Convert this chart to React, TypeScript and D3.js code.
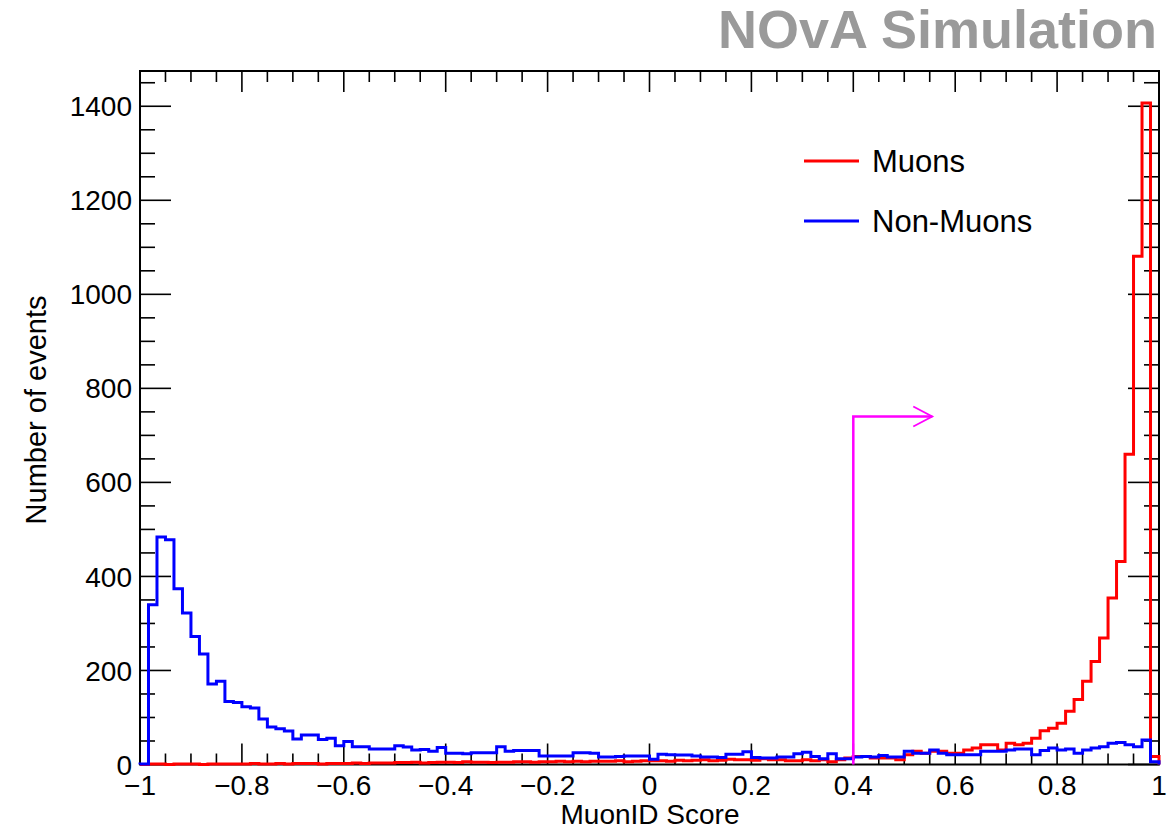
import React from "react";
import * as d3 from "d3";

// ---------- data ----------
const binEdgesRange = [-1, 1];
const nBins = 120;

const muonCounts = [
  0, 1, 1, 0, 1, 1, 1, 0, 1, 1, 1, 1, 1, 2, 1, 1, 2, 1, 2, 2, 2, 1, 2, 2, 2, 3, 2, 3, 3, 3, 4,
  4, 5, 3, 4, 5, 5, 4, 6, 5, 5, 4, 5, 5, 6, 6, 5, 6, 6, 7, 6, 7, 6, 7, 7, 7, 8, 6, 7, 8, 8,
  8, 7, 9, 8, 9, 10, 8, 9, 11, 10, 10, 9, 12, 10,
  10, 8, 8, 10, 8, 10, 6, 10, 14, 17, 17, 14, 14, 14, 10, 21, 28, 24, 28, 28,
  24, 24, 31, 35, 42, 42, 31, 45, 42, 45, 56, 72, 77, 88, 113, 138, 177, 219, 269, 354,
  432, 660, 1081, 1407, 17,
];

const nonMuonCounts = [
  1, 340, 484, 478, 374, 322, 272, 235, 171, 177, 134, 132, 123, 120, 97, 80, 76, 71, 54, 63,
  63, 53, 56, 40, 49, 38, 38, 33, 33, 33, 40, 37, 31, 32, 28, 36, 24, 24, 23, 25,
  25, 25, 38, 28, 30, 30, 30, 18, 18, 18, 18, 25, 25, 24, 16, 16, 17, 18, 18, 18,
  11, 22, 21, 20, 20, 18, 16, 16, 15, 22, 22, 27, 15, 14, 14, 16, 16, 23, 26, 17,
  12, 23, 12, 12, 16, 17, 16, 19, 16, 16, 28, 24, 24, 31, 24, 21, 21, 21, 21, 28,
  28, 28, 31, 33, 33, 21, 30, 35, 31, 33, 24, 31, 35, 38, 45, 47, 42, 38, 52, 6,
];

const xTickValues = [-1, -0.8, -0.6, -0.4, -0.2, 0, 0.2, 0.4, 0.6, 0.8, 1];
const xTickLabels = ["\u22121", "\u22120.8", "\u22120.6", "\u22120.4", "\u22120.2", "0", "0.2", "0.4", "0.6", "0.8", "1"];
const yTickValues = [0, 200, 400, 600, 800, 1000, 1200, 1400];
const yTickLabels = ["0", "200", "400", "600", "800", "1000", "1200", "1400"];

const seriesNames = ["Muons", "Non-Muons"];
const seriesColors = ["#ff0000", "#0000ff"];

const cutValue = 0.4;
const cutArrowHeight = 740;
const cutArrowEnd = 0.555;

// ---------- layout ----------
const W = 1173;
const H = 829;
const left = 140;
const right = 1159;
const top = 71;
const bottom = 764.5;
const yMax = 1475;
const FONT = "'Liberation Sans', Arial, Helvetica, sans-serif";

export default function App() {
  const x = d3.scaleLinear().domain(binEdgesRange).range([left, right]);
  const y = d3.scaleLinear().domain([0, yMax]).range([bottom, top]);
  const bw = (binEdgesRange[1] - binEdgesRange[0]) / nBins;

  const histPath = (vals: number[]) => {
    const pts: [number, number][] = [[binEdgesRange[0], 0]];
    vals.forEach((v, i) => {
      const x0 = binEdgesRange[0] + i * bw;
      pts.push([x0, v]);
      pts.push([x0 + bw, v]);
    });
    pts.push([binEdgesRange[1], 0]);
    return d3
      .line<[number, number]>()
      .x((d) => x(d[0]))
      .y((d) => y(d[1]))(pts) as string;
  };

  const xMinor = d3.range(-1, 1.0001, 0.05).map((v) => +v.toFixed(3));
  const yMinor = d3.range(0, yMax, 50);

  const tickColor = "#000";
  const xMajLen = 21;
  const xMinLen = 11;
  const yMajLen = 31;
  const yMinLen = 15;

  const ax = x(cutValue);
  const ay = y(cutArrowHeight);
  const aEnd = x(cutArrowEnd);

  return (
    <svg
      width={W}
      height={H}
      style={{ position: "absolute", left: 0, top: 0, background: "#fff" }}
      fontFamily={FONT}
    >
      <rect x={0} y={0} width={W} height={H} fill="#fff" />
      {/* title */}
      <text x={1157} y={48} textAnchor="end" fontSize={54} fontWeight="bold" fill="#9a9a9a">
        NOvA Simulation
      </text>

      {/* ticks */}
      <g stroke={tickColor} strokeWidth={1.6}>
        {xMinor.map((v, i) => {
          const major = xTickValues.some((t) => Math.abs(t - v) < 1e-6);
          const len = major ? xMajLen : xMinLen;
          return (
            <g key={"xt" + i}>
              <line x1={x(v)} x2={x(v)} y1={bottom} y2={bottom - len} />
              <line x1={x(v)} x2={x(v)} y1={top} y2={top + len} />
            </g>
          );
        })}
        {yMinor.map((v, i) => {
          const major = yTickValues.includes(v);
          const len = major ? yMajLen : yMinLen;
          return (
            <g key={"yt" + i}>
              <line x1={left} x2={left + len} y1={y(v)} y2={y(v)} />
              <line x1={right} x2={right - len} y1={y(v)} y2={y(v)} />
            </g>
          );
        })}
      </g>

      {/* frame */}
      <rect x={left} y={top} width={right - left} height={bottom - top} fill="none" stroke="#000" strokeWidth={2} />

      {/* histograms */}
      <path d={histPath(muonCounts)} fill="none" stroke={seriesColors[0]} strokeWidth={3} strokeLinejoin="miter" />
      <path d={histPath(nonMuonCounts)} fill="none" stroke={seriesColors[1]} strokeWidth={3} strokeLinejoin="miter" />

      {/* cut arrow */}
      <g stroke="#ff00ff" strokeWidth={2.5} fill="none">
        <path d={`M${ax},${bottom} L${ax},${ay} L${aEnd},${ay}`} />
        <path d={`M${aEnd - 19},${ay - 10} L${aEnd},${ay} L${aEnd - 19},${ay + 10}`} strokeWidth={1.8} />
      </g>

      {/* x tick labels */}
      {xTickValues.map((v, i) => (
        <text key={"xl" + i} x={x(v)} y={795} textAnchor="middle" fontSize={28} fill="#000">
          {xTickLabels[i]}
        </text>
      ))}
      {/* y tick labels */}
      {yTickValues.map((v, i) => (
        <text key={"yl" + i} x={132} y={y(v)} dy="0.36em" textAnchor="end" fontSize={28} fill="#000">
          {yTickLabels[i]}
        </text>
      ))}

      {/* axis titles */}
      <text x={650} y={824} textAnchor="middle" fontSize={28} fill="#000">
        MuonID Score
      </text>
      <text
        transform={`translate(46,410) rotate(-90)`}
        textAnchor="middle"
        fontSize={29}
        fill="#000"
      >
        Number of events
      </text>

      {/* legend */}
      {seriesNames.map((name, i) => {
        const ly = 161 + i * 60;
        return (
          <g key={"lg" + i}>
            <line x1={804} x2={859} y1={ly} y2={ly} stroke={seriesColors[i]} strokeWidth={3} />
            <text x={872} y={ly} dy="0.36em" fontSize={31} fill="#000">
              {name}
            </text>
          </g>
        );
      })}
    </svg>
  );
}
